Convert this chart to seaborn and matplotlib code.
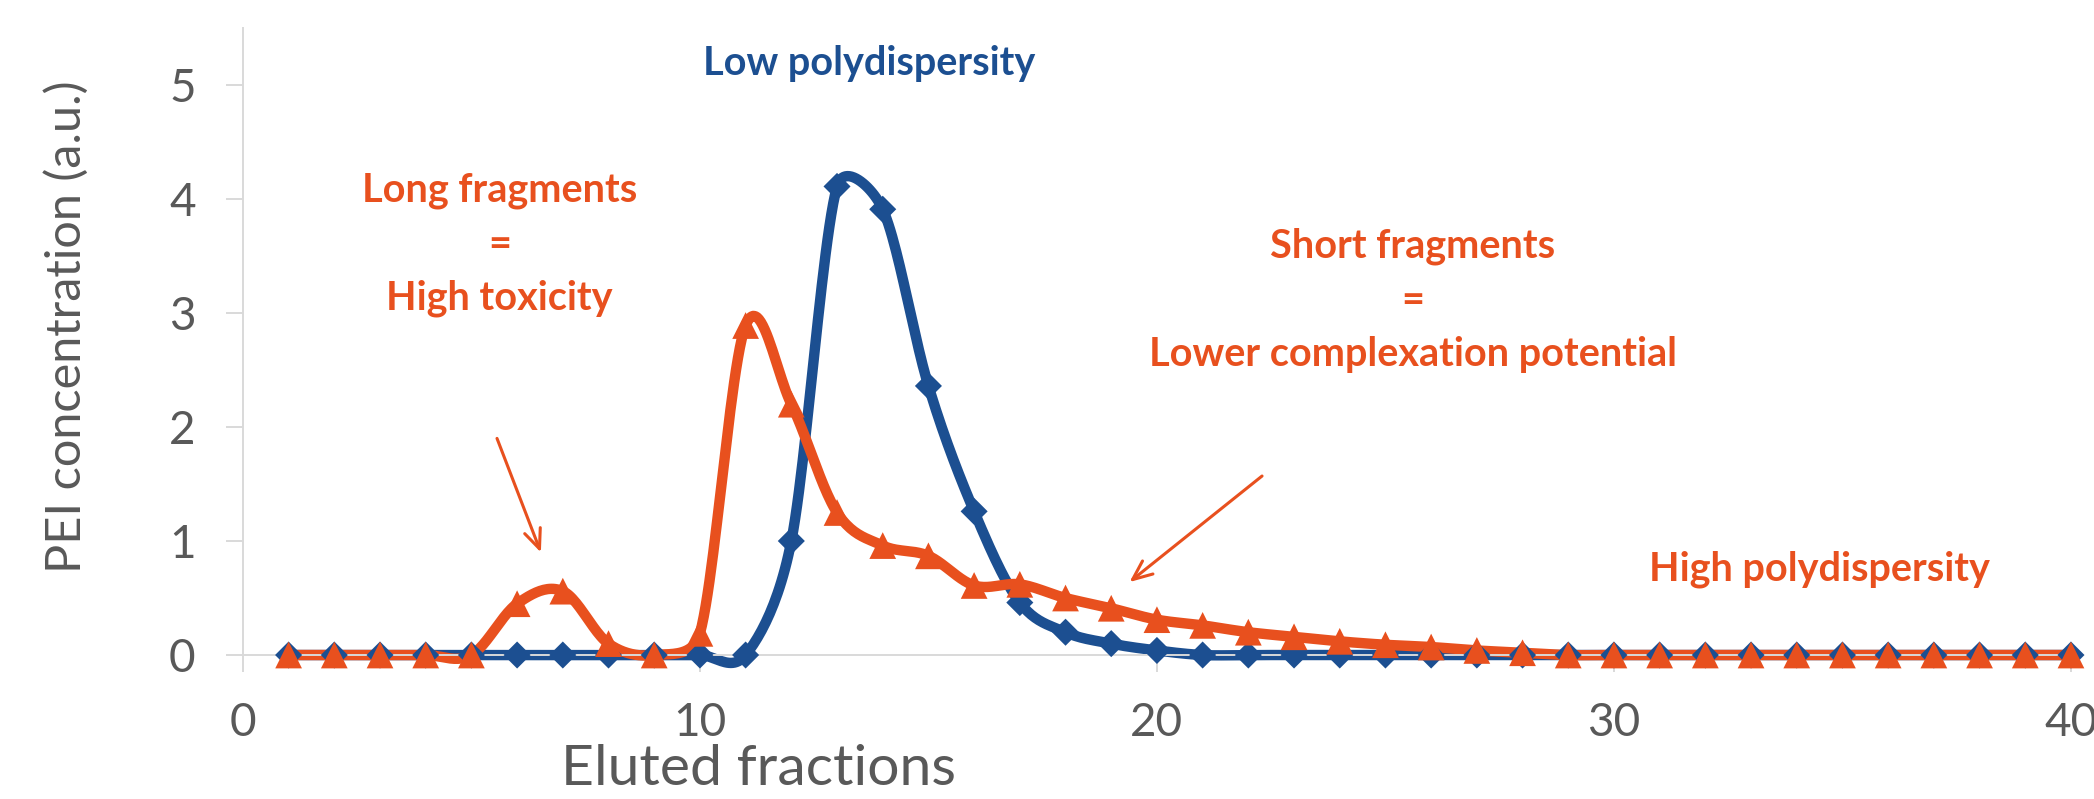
import numpy as np
import pandas as pd
import matplotlib.pyplot as plt
import seaborn as sns

# Eluted fraction number and PEI concentration (a.u.)
fractions = list(range(1, 41))
low_polydispersity = [0, 0, 0, 0, 0, 0, 0, 0, 0, 0,
                      0, 1.00, 4.11, 3.91, 2.36, 1.26, 0.46, 0.20, 0.10, 0.04,
                      0, 0, 0, 0, 0, 0, 0, 0, 0, 0,
                      0, 0, 0, 0, 0, 0, 0, 0, 0, 0]
high_polydispersity = [0, 0, 0, 0, 0, 0.45, 0.56, 0.10, 0, 0.19,
                       2.89, 2.20, 1.25, 0.96, 0.87, 0.61, 0.62, 0.50, 0.41, 0.31,
                       0.26, 0.20, 0.16, 0.12, 0.09, 0.07, 0.04, 0.02, 0, 0,
                       0, 0, 0, 0, 0, 0, 0, 0, 0, 0]

x_ticks = [0, 10, 20, 30, 40]
y_ticks = [0, 1, 2, 3, 4, 5]

BLUE = "#1C4F91"
ORANGE = "#E8501E"
TEXT_GRAY = "#595959"
AXIS_GRAY = "#D9D9D9"


def smooth_curve(x, y, sx, sy, n=24, f=1 / 6):
    # Excel-like smoothed line: bezier segments, tangents capped at half a chord
    P = np.column_stack([np.asarray(x, float) * sx, np.asarray(y, float) * sy])
    m = len(P)
    before = P.copy()
    after = P.copy()
    for i in range(m):
        prev_p = P[max(i - 1, 0)]
        next_p = P[min(i + 1, m - 1)]
        T = next_p - prev_p
        L = np.hypot(*T)
        if L == 0:
            continue
        u = T / L
        d_prev = np.hypot(*(P[i] - prev_p))
        d_next = np.hypot(*(next_p - P[i]))
        before[i] = P[i] - u * min(f * L, 0.5 * d_prev)
        after[i] = P[i] + u * min(f * L, 0.5 * d_next)
    t = np.linspace(0, 1, n, endpoint=False)[:, None]
    out = []
    for i in range(m - 1):
        p1, c1, c2, p2 = P[i], after[i], before[i + 1], P[i + 1]
        out.append((1 - t) ** 3 * p1 + 3 * (1 - t) ** 2 * t * c1
                   + 3 * (1 - t) * t ** 2 * c2 + t ** 3 * p2)
    out.append(P[-1:])
    out = np.vstack(out)
    return out[:, 0] / sx, out[:, 1] / sy


sns.set_theme(style="white")
plt.rcParams["font.family"] = ["Lato", "DejaVu Sans"]

fig = plt.figure(figsize=(20.94, 7.99), dpi=100)
ax = fig.add_axes([0.1160, 0.1802, 0.8730, 0.7848])
ax.set_xlim(0, 40)
ax.set_ylim(0, 5.5)

# pixel size of one data unit, so the smoothing works in screen space
o = ax.transData.transform((0, 0))
px_x = ax.transData.transform((1, 0))[0] - o[0]
px_y = ax.transData.transform((0, 1))[1] - o[1]

series = [("Low polydispersity", low_polydispersity, BLUE, "D", 190),
          ("High polydispersity", high_polydispersity, ORANGE, "^", 370)]

for name, values, color, marker, size in series:
    cx, cy = smooth_curve(fractions, values, px_x, px_y)
    curve = pd.DataFrame({"x": cx, "y": cy})
    sns.lineplot(data=curve, x="x", y="y", color=color, linewidth=7.5,
                 sort=False, estimator=None, ax=ax, clip_on=False,
                 solid_capstyle="round")
    pts = pd.DataFrame({"x": fractions, "y": values})
    sns.scatterplot(data=pts, x="x", y="y", marker=marker, s=size,
                    color=color, edgecolor="none", linewidth=0, ax=ax,
                    clip_on=False, zorder=3)

ax.set_xlim(0, 40)
ax.set_ylim(0, 5.5)
ax.set_xticks(x_ticks)
ax.set_yticks(y_ticks)

for side in ["top", "right"]:
    ax.spines[side].set_visible(False)
for side in ["left", "bottom"]:
    ax.spines[side].set_color(AXIS_GRAY)
    ax.spines[side].set_linewidth(1.4)
ax.tick_params(axis="both", direction="out", length=12, width=1.4,
               color=AXIS_GRAY, labelcolor=TEXT_GRAY, labelsize=33, pad=22)
ax.tick_params(axis="x", bottom=True)
ax.tick_params(axis="y", left=True)

ax.set_xlabel("Eluted fractions", fontsize=41, color=TEXT_GRAY, va="center")
ax.xaxis.set_label_coords(0.282, -0.183)
ax.set_ylabel("PEI concentration (a.u.)", fontsize=35, color=TEXT_GRAY,
              va="center")
ax.yaxis.set_label_coords(-0.0963, 0.523)

# annotations
ax.text(13.7, 5.19, "Low polydispersity", color=BLUE, fontsize=28.5,
        fontweight="bold", ha="center", va="center")
ax.text(5.62, 3.60, "Long fragments\n=\nHigh toxicity", color=ORANGE,
        fontsize=28.5, fontweight="bold", ha="center", va="center",
        multialignment="center", linespacing=1.57)
ax.text(25.6, 3.11, "Short fragments\n=\nLower complexation potential",
        color=ORANGE, fontsize=28.5, fontweight="bold", ha="center",
        va="center", multialignment="center", linespacing=1.57)
ax.text(34.5, 0.75, "High polydispersity", color=ORANGE, fontsize=28.5,
        fontweight="bold", ha="center", va="center")

arrow = dict(arrowstyle="->,head_length=0.7,head_width=0.3", color=ORANGE,
             lw=2.2, shrinkA=0, shrinkB=0, mutation_scale=20)
ax.annotate("", xy=(6.52, 0.90), xytext=(5.56, 1.90), arrowprops=arrow)
ax.annotate("", xy=(19.4, 0.64), xytext=(22.3, 1.57), arrowprops=arrow)

fig.savefig("out.png", dpi=100)
